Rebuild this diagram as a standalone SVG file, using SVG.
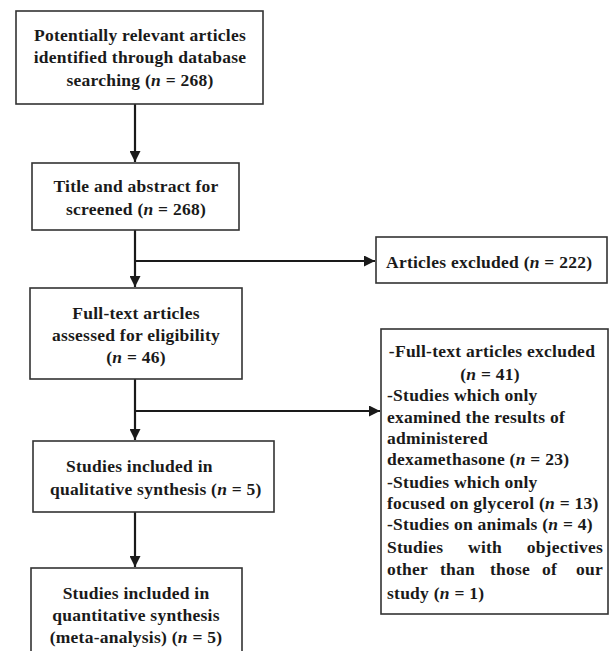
<svg xmlns="http://www.w3.org/2000/svg" width="609" height="651" viewBox="0 0 609 651">
<style>
.box{fill:#fff;stroke:#333;stroke-width:1.6}
.t{font-family:"Liberation Serif","Times New Roman",serif;font-weight:bold;font-size:17.5px;letter-spacing:0.25px;fill:#1a1a1a}
.c{text-anchor:middle}
.e{text-anchor:end}
.con{stroke:#1a1a1a;stroke-width:2.2;fill:none}
.i{font-style:italic}
</style>
<defs>
<marker id="ah" viewBox="0 0 10 10" refX="10" refY="5" markerWidth="5" markerHeight="5" orient="auto" markerUnits="strokeWidth">
<path d="M0,0 L10,5 L0,10 z" fill="#1a1a1a"/>
</marker>
</defs>
<rect width="609" height="651" fill="#fff"/>
<g id="connectors">
<line class="con" x1="135" y1="104" x2="135" y2="162" marker-end="url(#ah)"/>
<line class="con" x1="135" y1="230" x2="135" y2="287" marker-end="url(#ah)"/>
<line class="con" x1="135" y1="261" x2="375" y2="261" marker-end="url(#ah)"/>
<line class="con" x1="135" y1="379" x2="135" y2="440" marker-end="url(#ah)"/>
<line class="con" x1="135" y1="411" x2="380" y2="411" marker-end="url(#ah)"/>
<line class="con" x1="135" y1="512" x2="135" y2="567" marker-end="url(#ah)"/>
</g>
<g id="n1">
<rect class="box" x="16" y="11" width="247" height="93"/>
<text class="t c" x="140" y="41">Potentially relevant articles</text>
<text class="t c" x="140" y="63">identified through database</text>
<text class="t c" x="140" y="86">searching (<tspan class="i">n</tspan> = 268)</text>
</g>
<g id="n2">
<rect class="box" x="32" y="163" width="207" height="67"/>
<text class="t c" x="136" y="192">Title and abstract for</text>
<text class="t c" x="136" y="215">screened (<tspan class="i">n</tspan> = 268)</text>
</g>
<g id="n3">
<rect class="box" x="30" y="288" width="212" height="91"/>
<text class="t c" x="136" y="319">Full-text articles</text>
<text class="t c" x="136" y="341">assessed for eligibility</text>
<text class="t c" x="136" y="363">(<tspan class="i">n</tspan> = 46)</text>
</g>
<g id="n4">
<rect class="box" x="33" y="441" width="241" height="71"/>
<text class="t" x="66" y="472">Studies included in</text>
<text class="t" x="50" y="495">qualitative synthesis (<tspan class="i">n</tspan> = 5)</text>
</g>
<g id="n5">
<rect class="box" x="31" y="568" width="211" height="95"/>
<text class="t c" x="136" y="599">Studies included in</text>
<text class="t c" x="136" y="621">quantitative synthesis</text>
<text class="t c" x="136" y="643">(meta-analysis) (<tspan class="i">n</tspan> = 5)</text>
</g>
<g id="n6">
<rect class="box" x="376" y="237" width="231" height="46"/>
<text class="t" x="386" y="268">Articles excluded (<tspan class="i">n</tspan> = 222)</text>
</g>
<g id="n7">
<rect class="box" x="381" y="329" width="227" height="285"/>
<text class="t c" x="492" y="357">-Full-text articles excluded</text>
<text class="t c" x="490" y="380">(<tspan class="i">n</tspan> = 41)</text>
<text class="t" x="387" y="401">-Studies which only</text>
<text class="t" x="387" y="423">examined the results of</text>
<text class="t" x="387" y="444">administered</text>
<text class="t" x="387" y="465">dexamethasone (<tspan class="i">n</tspan> = 23)</text>
<text class="t" x="387" y="488">-Studies which only</text>
<text class="t" x="387" y="509">focused on glycerol (<tspan class="i">n</tspan> = 13)</text>
<text class="t" x="387" y="530">-Studies on animals (<tspan class="i">n</tspan> = 4)</text>
<text class="t" x="387" y="553">Studies</text>
<text class="t" x="468" y="553">with</text>
<text class="t e" x="603" y="553">objectives</text>
<text class="t" x="387" y="575">other</text>
<text class="t" x="440" y="575">than</text>
<text class="t" x="490" y="575">those</text>
<text class="t" x="542" y="575">of</text>
<text class="t e" x="603" y="575">our</text>
<text class="t" x="387" y="599">study (<tspan class="i">n</tspan> = 1)</text>
</g>
</svg>
